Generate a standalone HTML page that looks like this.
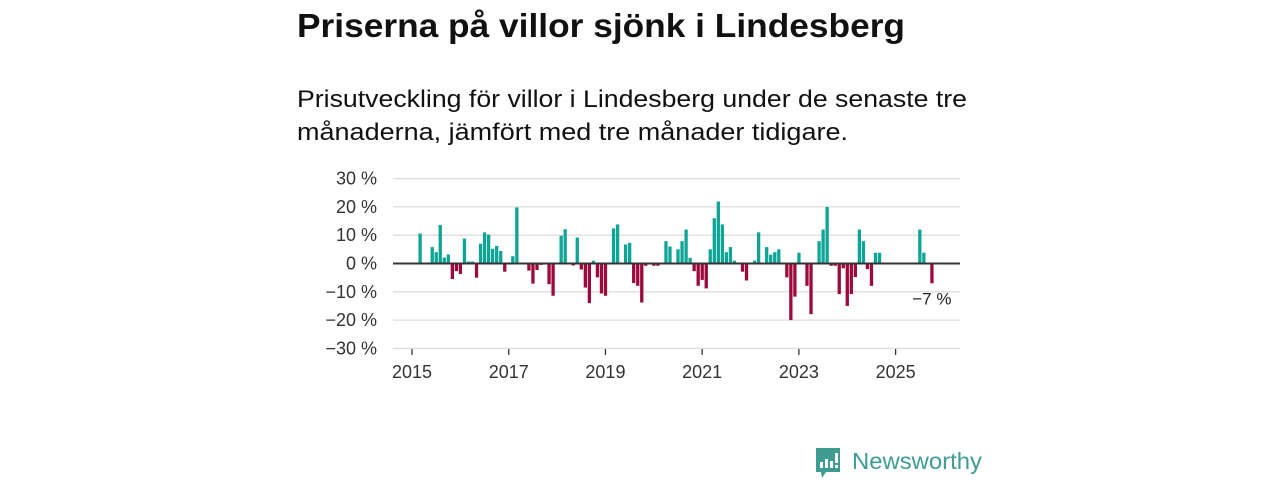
<!DOCTYPE html>
<html><head><meta charset="utf-8"><style>
html,body{margin:0;padding:0;background:#fff;width:1280px;height:480px;overflow:hidden}
svg{display:block;font-family:"Liberation Sans",sans-serif}
</style></head><body>
<svg id="chart" width="1280" height="480" viewBox="0 0 1280 480">
<text x="297" y="37" font-size="33" font-weight="bold" fill="#111" textLength="608" lengthAdjust="spacingAndGlyphs">Priserna på villor sjönk i Lindesberg</text>
<text x="297" y="107" font-size="24" fill="#111" textLength="670" lengthAdjust="spacingAndGlyphs">Prisutveckling för villor i Lindesberg under de senaste tre</text>
<text x="297" y="140" font-size="24" fill="#111" textLength="551" lengthAdjust="spacingAndGlyphs">månaderna, jämfört med tre månader tidigare.</text>
<g id="grid"></g>
<g id="bars"></g>
<g id="axes"></g>
<g>
<path d="M816 448h24v24h-14l-4 6l-1-6h-5z" fill="#3e9c93"/>
<rect x="820" y="462" width="3" height="6" fill="#fff"/><rect x="825" y="459" width="3" height="9" fill="#fff"/><rect x="830" y="461" width="3" height="7" fill="#fff"/><rect x="835" y="453" width="3" height="10" fill="#fff"/><rect x="835" y="465" width="3" height="3" fill="#fff"/>
<text x="852" y="469" font-size="23" fill="#3e9c93" textLength="130" lengthAdjust="spacingAndGlyphs">Newsworthy</text>
</g>
</svg>
<script>
const startYear = 2015;
// monthly values, index 0 = Jan 2015; null = no bar
const values = [null,null,10.6,null,null,5.8,4,13.6,2.1,3.2,-5.5,-2.7,
-3.7,8.8,0.7,0.7,-5,7,11,10.2,5.2,6.2,4.4,-2.9,
null,2.6,19.8,null,null,-2.5,-7.1,-2.3,-0.5,null,-7.3,-11.4,
null,9.8,12.1,null,-0.7,9.2,-2.1,-8.5,-14,1,-4.9,-10.6,
-11.4,null,12.4,13.8,null,6.7,7.3,-6.9,-7.9,-13.8,-0.8,null,
-0.8,-0.8,null,7.9,6,null,5,7.9,12,2,-2.7,-7.9,
-5.8,-8.8,5,16,21.9,13.8,4,5.8,1,null,-2.9,-6,
null,1,11,null,5.8,3.1,4,5,null,-4.9,-20,-11.7,
3.8,null,-7.9,-17.9,null,7.9,12,20,-0.8,-0.8,-10.8,-1.7,
-15,-10.8,-4.8,12,7.9,-2,-7.9,3.8,3.8,null,null,null,
null,null,null,null,null,null,12,3.8,null,-7];
const yTicks = [30,20,10,0,-10,-20,-30];
const yTickLabels = ["30 %","20 %","10 %","0 %","\u221210 %","\u221220 %","\u221230 %"];
const xTicks = [2015,2017,2019,2021,2023,2025];
const lastLabel = "\u22127 %";

const ns="http://www.w3.org/2000/svg";
const X0=393,X1=960,Y0=263.5,PPU=2.83;
function x(i){return 412+i*4.03;}
function y(v){return Y0-v*PPU;}
function mk(tag,attrs,parent){const e=document.createElementNS(ns,tag);for(const k in attrs)e.setAttribute(k,attrs[k]);parent.appendChild(e);return e;}
const grid=document.getElementById('grid'),bars=document.getElementById('bars'),axes=document.getElementById('axes');
yTicks.forEach((t,k)=>{
  if(t!==0){const l=mk('line',{x1:X0,x2:X1,y1:y(t),y2:y(t),stroke:'#ddd','stroke-width':1.3},grid);
  
  }
  const tx=mk('text',{x:377,y:y(t)+6,'font-size':18,fill:'#333','text-anchor':'end'},axes);
  tx.textContent=yTickLabels[k];
  
  
});
values.forEach((v,i)=>{
  if(v===null)return;
  const r=mk('rect',{x:x(i)-1.6,width:3.3,y:Math.min(y(v),Y0),height:Math.abs(y(v)-Y0),fill:v>=0?'#0ea597':'#9c0a3c'},bars);
  
  
});
const zl=mk('line',{x1:X0,x2:X1,y1:Y0,y2:Y0,stroke:'#333','stroke-width':2},axes);


xTicks.forEach(yr=>{
  const xi=x((yr-startYear)*12);
  const tl=mk('line',{x1:xi,x2:xi,y1:349,y2:355,stroke:'#333','stroke-width':1.3},axes);
  
  
  const tx=mk('text',{x:xi,y:378,'font-size':18,fill:'#333','text-anchor':'middle'},axes);
  tx.textContent=yr;
  
  
});
let li=values.length-1;
const lab=mk('text',{x:x(li),y:y(values[li])+21,'font-size':17,fill:'#222','text-anchor':'middle'},axes);
lab.textContent=lastLabel;


</script>
</body></html>
